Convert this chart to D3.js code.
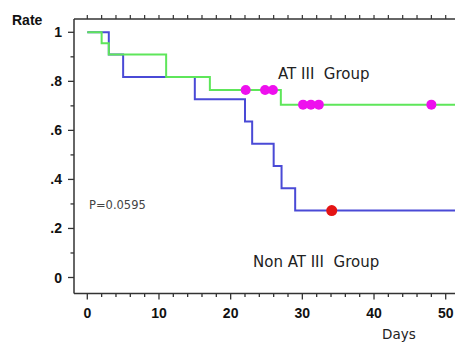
<!DOCTYPE html>
<html>
<head>
<meta charset="utf-8">
<script src="https://cdn.jsdelivr.net/npm/d3@7"></script>
<style>
  body { margin: 0; background: #fff; }
  svg { display: block; }
</style>
</head>
<body>
<script>
// AT III group (green) survival steps
const atDays = [0, 2, 3, 11, 17.1, 27, 52];
const atRate = [1, 0.955, 0.909, 0.818, 0.765, 0.705, 0.705];
// Non AT III group (blue) survival steps
const nonDays = [0, 3, 5, 15, 22, 23, 26, 27.1, 29, 52];
const nonRate = [1, 0.909, 0.818, 0.727, 0.636, 0.545, 0.455, 0.364, 0.273, 0.273];
// censored marks
const atCensorDays = [22.1, 24.8, 25.9, 30.1, 31.2, 32.3, 48];
const atCensorRate = [0.765, 0.765, 0.765, 0.705, 0.705, 0.705, 0.705];
const nonCensorDays = [34.1];
const nonCensorRate = [0.273];
// ticks
const xTicks = [0, 10, 20, 30, 40, 50];
const yTicks = [0, 0.2, 0.4, 0.6, 0.8, 1];
const yTickLabels = ["0", ".2", ".4", ".6", ".8", "1"];

const W = 455, H = 345;
const axisX = 74, topY = 19, axisY = 293.5;

var x = d3.scaleLinear().domain([0, 50]).range([87.3, 445.7]);
var y = d3.scaleLinear().domain([0, 1]).range([277.5, 32.3]);

const svg = d3.create("svg").attr("width", W).attr("height", H);

// frame lines
svg.append("line").attr("x1", axisX).attr("x2", W).attr("y1", topY).attr("y2", topY)
  .attr("stroke", "#333").attr("stroke-width", 1.5);
svg.append("line").attr("x1", axisX).attr("x2", axisX).attr("y1", topY).attr("y2", axisY)
  .attr("stroke", "#333").attr("stroke-width", 1.5);
svg.append("line").attr("x1", axisX).attr("x2", W).attr("y1", axisY).attr("y2", axisY)
  .attr("stroke", "#333").attr("stroke-width", 1.5);

// minor ticks every 2 days
const minorX = d3.range(0, 53, 2);
svg.append("g").selectAll("line").data(minorX).join("line")
  .attr("x1", d => x(d)).attr("x2", d => x(d))
  .attr("y1", axisY).attr("y2", d => axisY + (d % 10 === 0 ? 6 : 3.5))
  .attr("stroke", "#333").attr("stroke-width", 1.3);
svg.append("g").selectAll("line").data(minorX).join("line")
  .attr("x1", d => x(d)).attr("x2", d => x(d))
  .attr("y1", topY).attr("y2", topY - 4)
  .attr("stroke", "#333").attr("stroke-width", 1.2);

// y ticks every 0.1
const minorY = d3.range(0, 11).map(d => d / 10);
svg.append("g").selectAll("line").data(minorY).join("line")
  .attr("x1", axisX).attr("x2", (d, i) => axisX - (i % 2 === 0 ? 6 : 3.5))
  .attr("y1", d => y(d)).attr("y2", d => y(d))
  .attr("stroke", "#333").attr("stroke-width", 1.3);

// tick labels
svg.append("g").selectAll("text").data(xTicks).join("text")
  .attr("x", d => x(d)).attr("y", 318)
  .attr("text-anchor", "middle")
  .attr("font-family", "Liberation Sans, Arial, sans-serif")
  .attr("font-weight", "bold").attr("font-size", 14).attr("fill", "#111")
  .text(d => d);
svg.append("g").selectAll("text").data(yTicks).join("text")
  .attr("x", 62).attr("y", d => y(d) + 5)
  .attr("text-anchor", "end")
  .attr("font-family", "Liberation Sans, Arial, sans-serif")
  .attr("font-weight", "bold").attr("font-size", 14).attr("fill", "#111")
  .text((d, i) => yTickLabels[i]);

svg.append("text").attr("x", 12).attr("y", 25)
  .attr("font-family", "Liberation Sans, Arial, sans-serif")
  .attr("font-weight", "bold").attr("font-size", 14).attr("fill", "#111")
  .text("Rate");
svg.append("text").attr("x", 382).attr("y", 339)
  .attr("font-family", "DejaVu Sans, sans-serif")
  .attr("font-size", 13.5).attr("fill", "#222")
  .text("Days");

// curves
const line = d3.line().curve(d3.curveStepAfter).x(d => x(d[0])).y(d => y(d[1]));
svg.append("path").datum(d3.zip(nonDays, nonRate))
  .attr("fill", "none").attr("stroke", "#4a4ad6").attr("stroke-width", 2)
  .attr("d", line);
svg.append("path").datum(d3.zip(atDays, atRate))
  .attr("fill", "none").attr("stroke", "#5ee65a").attr("stroke-width", 2)
  .attr("d", line);

svg.append("g").selectAll("circle").data(d3.zip(atCensorDays, atCensorRate)).join("circle")
  .attr("cx", d => x(d[0])).attr("cy", d => y(d[1])).attr("r", 5)
  .attr("fill", "#ee10ee");
svg.append("g").selectAll("circle").data(d3.zip(nonCensorDays, nonCensorRate)).join("circle")
  .attr("cx", d => x(d[0])).attr("cy", d => y(d[1])).attr("r", 5.5)
  .attr("fill", "#e41414");

// annotations
svg.append("text").attr("x", 278).attr("y", 79)
  .attr("font-family", "DejaVu Sans, sans-serif").attr("font-size", 15).attr("fill", "#222")
  .style("white-space", "pre")
  .text("AT III  Group");
svg.append("text").attr("x", 253).attr("y", 267)
  .attr("font-family", "DejaVu Sans, sans-serif").attr("font-size", 15).attr("fill", "#222")
  .style("white-space", "pre")
  .text("Non AT III  Group");
svg.append("text").attr("x", 89).attr("y", 209)
  .attr("font-family", "DejaVu Sans, sans-serif").attr("font-size", 11.5).attr("fill", "#444")
  .text("P=0.0595");

d3.select("body").append(() => svg.node());
</script>
</body>
</html>
